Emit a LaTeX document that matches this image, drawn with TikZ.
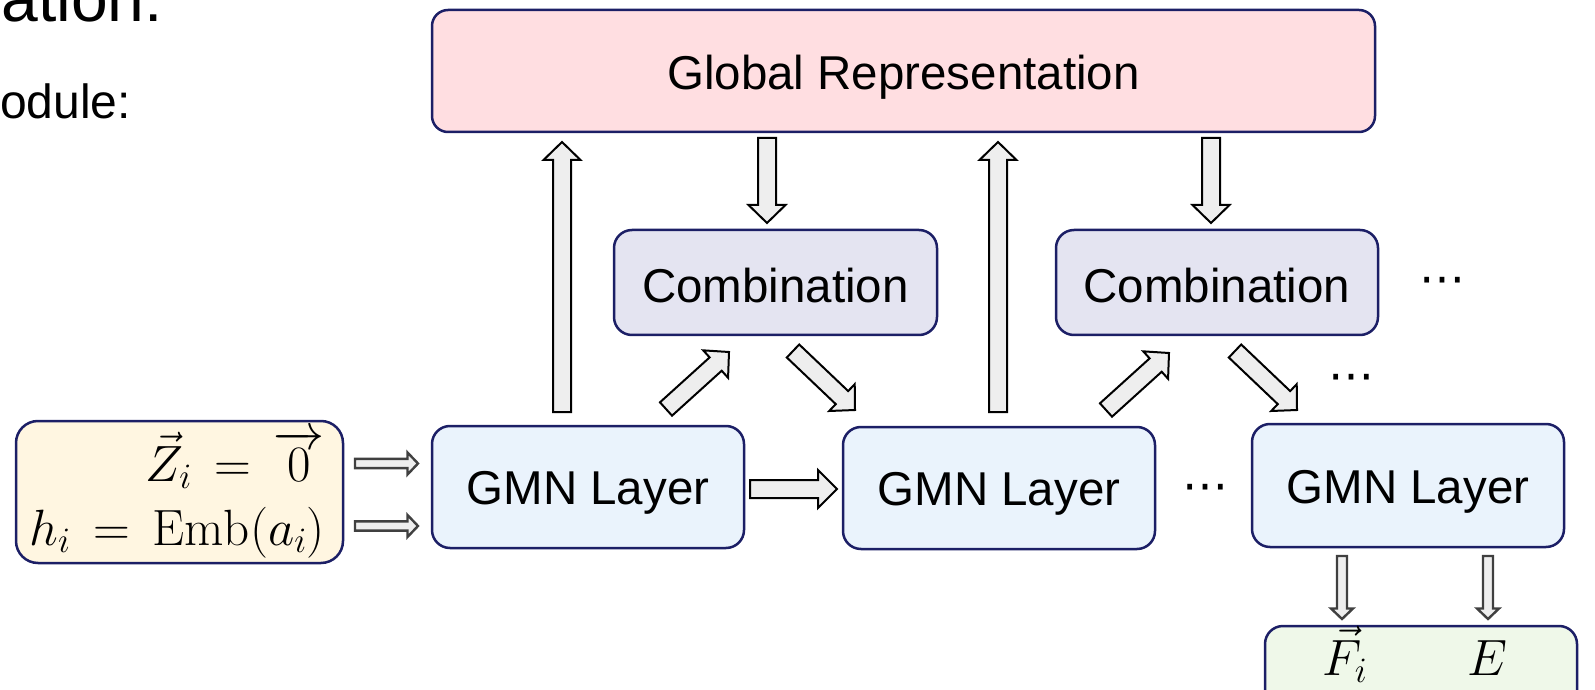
\RequirePackage{fix-cm}
\documentclass[tikz,border=0pt]{standalone}
\usepackage{fontspec}
\usetikzlibrary{calc}
\newfontfamily\arial{Liberation Sans}
\newfontfamily\djv{DejaVu Sans}
\definecolor{navy}{HTML}{1C1F66}
\definecolor{globfill}{HTML}{FFDEE1}
\definecolor{combfill}{HTML}{E4E4F1}
\definecolor{gmnfill}{HTML}{EAF3FC}
\definecolor{inpfill}{HTML}{FFF6E1}
\definecolor{outfill}{HTML}{EFF8E9}
\definecolor{arrowfill}{HTML}{EEEEEE}
\definecolor{smallline}{HTML}{404040}
\tikzset{
  box/.style={draw=navy, line width=2.5pt, rounded corners=18pt, inner sep=0pt, align=center},
  lbl/.style={font=\arial\fontsize{47.5}{57}\selectfont},
  mth/.style={inner sep=0pt, font=\fontsize{51}{60}\selectfont},
  dotsl/.style={inner sep=0pt, font=\djv\fontsize{46}{54}\selectfont},
  bw/.store in=\bw, bh/.store in=\bh, bl/.store in=\bl,
  barrow/.style={draw=black, line width=2pt, fill=arrowfill, line join=miter, miter limit=10,
    bw=9pt, bh=18.5pt, bl=18pt,
    to path={($(\tikztostart)!\bw!90:(\tikztotarget)$)
      -- ($($(\tikztotarget)!\bl!(\tikztostart)$)!\bw!90:(\tikztotarget)$)
      -- ($($(\tikztotarget)!\bl!(\tikztostart)$)!\bh!90:(\tikztotarget)$)
      -- (\tikztotarget)
      -- ($($(\tikztotarget)!\bl!(\tikztostart)$)!\bh!-90:(\tikztotarget)$)
      -- ($($(\tikztotarget)!\bl!(\tikztostart)$)!\bw!-90:(\tikztotarget)$)
      -- ($(\tikztostart)!\bw!-90:(\tikztotarget)$) -- cycle}},
  sarrow/.style={barrow, draw=smallline, line width=2.4pt, bw=4.6pt, bh=11pt, bl=10.5pt},
}
\begin{document}
\begin{tikzpicture}[x=1pt,y=1pt]
\useasboundingbox (0,0) rectangle (1595,689);

% cropped slide text
\node[anchor=base east, inner sep=0pt, font=\arial\fontsize{66}{72}\selectfont] (title) at (163,667) {ation:};
\node[anchor=base west, inner sep=0pt, font=\arial\fontsize{48}{56}\selectfont] (sub) at (0,570) {odule:};

% boxes
\node[box, fill=globfill, minimum width=943pt, minimum height=122pt, rounded corners=16pt] (glob) at (903.5,618) {};
\node[box, fill=combfill, minimum width=323pt, minimum height=105pt] (comb1) at (775.5,406.5) {};
\node[box, fill=combfill, minimum width=322pt, minimum height=105pt] (comb2) at (1217,406.5) {};
\node[box, fill=gmnfill, minimum width=312pt, minimum height=122pt] (gmn1) at (588,202) {};
\node[box, fill=gmnfill, minimum width=312pt, minimum height=122pt] (gmn2) at (999,201) {};
\node[box, fill=gmnfill, minimum width=312pt, minimum height=123pt] (gmn3) at (1408,203.5) {};
\node[box, fill=inpfill, minimum width=327pt, minimum height=142pt, rounded corners=22pt] (inp) at (179.5,197) {};
\node[box, fill=outfill, minimum width=312pt, minimum height=90pt] (outb) at (1421,18) {};

% box labels
\node[lbl, inner sep=0pt, yshift=-6pt] (globt) at (glob) {Global Representation};
\node[lbl, inner sep=0pt, yshift=-3pt] (comb1t) at (comb1) {Combination};
\node[lbl, inner sep=0pt, yshift=-3pt] (comb2t) at (comb2) {Combination};
\node[lbl, inner sep=0pt, yshift=-6pt] (gmn1t) at (gmn1) {GMN Layer};
\node[lbl, inner sep=0pt, yshift=-6pt] (gmn2t) at (gmn2) {GMN Layer};
\node[lbl, inner sep=0pt, yshift=-6pt] (gmn3t) at (gmn3) {GMN Layer};

% texts in input / output
\node[mth, anchor=base east] (zl) at (325,208) {$\vec{Z}_i \,=\, \overrightarrow{0}$};
\node[mth, anchor=base east] (hl) at (325,144) {$h_i \,=\, \mathrm{Emb}(a_i)$};
\node[mth, anchor=base] (fl) at (1345,14) {$\vec{F}_i$};
\node[mth, anchor=base] (el) at (1487,14) {$E$};

% dots
\node[dotsl, anchor=base] (d1) at (1205,188) {⋯};
\node[dotsl, anchor=base] (d2) at (1442,394) {⋯};
\node[dotsl, anchor=base] (d3) at (1351,298) {⋯};

% arrow end points
\coordinate (u1a) at (562,277);  \coordinate (u1b) at (562,547);
\coordinate (u2a) at (998,277);  \coordinate (u2b) at (998,547);
\coordinate (v1a) at (767,551);  \coordinate (v1b) at (767,466);
\coordinate (v2a) at (1211,551); \coordinate (v2b) at (1211,466);
\coordinate (p1a) at (666,280);  \coordinate (p1b) at (729,337);
\coordinate (q1a) at (793,338);  \coordinate (q1b) at (855,279);
\coordinate (p2a) at (1106,279); \coordinate (p2b) at (1169,336);
\coordinate (q2a) at (1235,338); \coordinate (q2b) at (1297,279);
\coordinate (ha) at (750,200);   \coordinate (hb) at (837,200);
\coordinate (s1a) at (355,225.5); \coordinate (s1b) at (418,225.5);
\coordinate (s2a) at (355,163);  \coordinate (s2b) at (418,163);
\coordinate (o1a) at (1342,133); \coordinate (o1b) at (1342,70);
\coordinate (o2a) at (1488,133); \coordinate (o2b) at (1488,70);

\draw[barrow] (u1a) to (u1b);
\draw[barrow] (u2a) to (u2b);
\draw[barrow] (v1a) to (v1b);
\draw[barrow] (v2a) to (v2b);
\draw[barrow] (p1a) to (p1b);
\draw[barrow] (q1a) to (q1b);
\draw[barrow] (p2a) to (p2b);
\draw[barrow] (q2a) to (q2b);
\draw[barrow, bh=19pt, bl=19pt] (ha) to (hb);
\draw[sarrow] (s1a) to (s1b);
\draw[sarrow] (s2a) to (s2b);
\draw[sarrow, bw=5pt] (o1a) to (o1b);
\draw[sarrow, bw=5pt] (o2a) to (o2b);
\end{tikzpicture}
\end{document}
